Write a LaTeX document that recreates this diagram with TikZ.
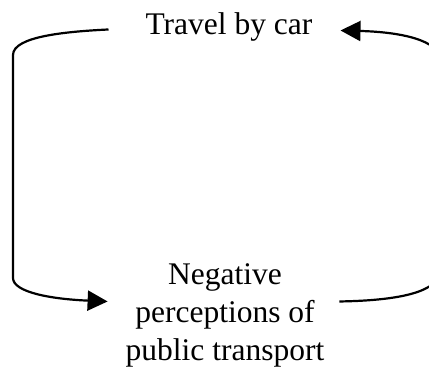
\documentclass[tikz,border=0pt]{standalone}
\usepackage{fontspec}
\setmainfont{Liberation Serif}
\usetikzlibrary{arrows.meta}

\begin{document}
\begin{tikzpicture}[x=0.5pt, y=-0.5pt, line width=1.1pt,
	label text/.style={inner sep=0pt, font=\fontsize{15.75}{18.8}\selectfont},
	loop arrow/.style={-{Triangle[length=10pt,width=10pt]}}]
	%frame
	\useasboundingbox (0,0) rectangle (429,369);
	\clip (0,0) rectangle (429,369);
	%labels
	\node[label text, anchor=base] (car) at (229,35) {Travel by car};
	\node[label text, anchor=north, align=center] (neg) at (225,263)
	{Negative\\perceptions of\\public transport};
	%left loop
	\draw[loop arrow] ([xshift=-18pt,yshift=-1pt]car.west)
	.. controls +(-40,2) and (13,36) .. (13,55)
	-- (13,278)
	.. controls (13,292) and (50,299) .. ([xshift=-8.5pt,yshift=7pt]neg.west);
	%right loop
	\draw[loop arrow] ([xshift=7pt,yshift=7pt]neg.east)
	.. controls +(60,-1) and (440,292) .. (440,270)
	-- (440,60)
	.. controls (440,40) and (400,32) .. ([xshift=13.5pt,yshift=-1.5pt]car.east);
\end{tikzpicture}
\end{document}
